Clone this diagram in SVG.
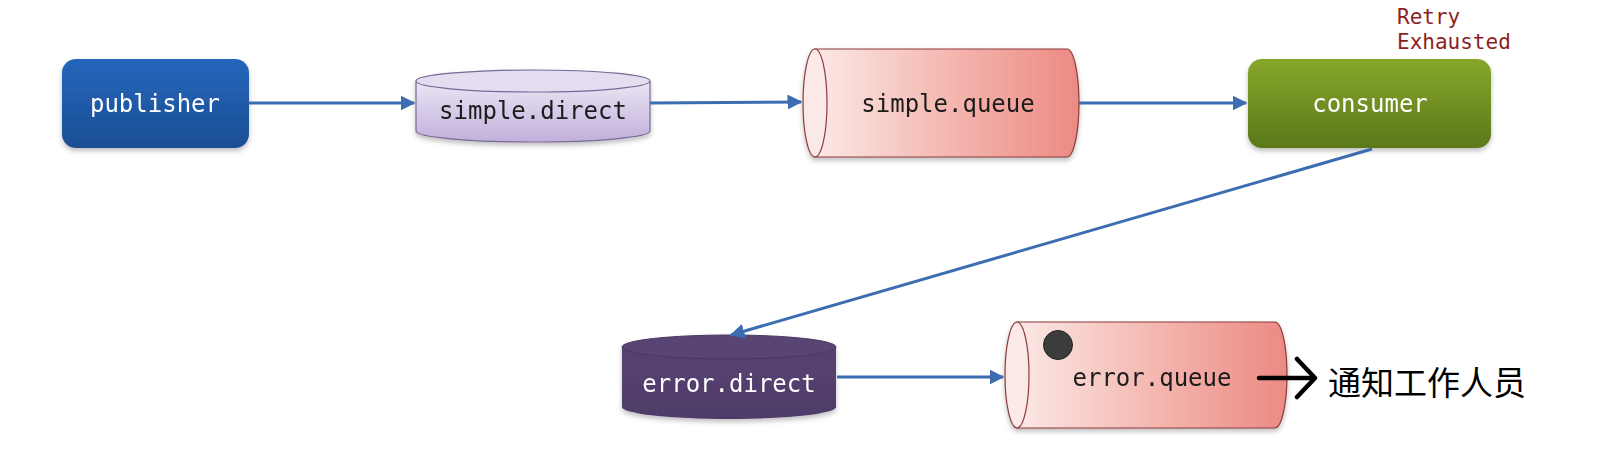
<svg xmlns="http://www.w3.org/2000/svg" width="1611" height="460" viewBox="0 0 1611 460">
<style>
.lbl{font-family:"DejaVu Sans Mono","Liberation Mono",monospace;font-size:24px;text-anchor:middle;dominant-baseline:central}
.w{fill:#ffffff}
.k{fill:#1a1a1a}
.conn{stroke:#3b6db0;stroke-width:3;fill:none;marker-end:url(#ah)}
</style>
<defs>
<marker id="ah" viewBox="0 0 10 10" refX="9" refY="5" markerWidth="5" markerHeight="5" orient="auto" markerUnits="strokeWidth">
<path d="M0,0 L10,5 L0,10 z" fill="#3b6db0"/>
</marker>
<linearGradient id="gBlue" x1="0" y1="0" x2="0" y2="1"><stop offset="0" stop-color="#2466bb"/><stop offset="1" stop-color="#1b4f95"/></linearGradient>
<linearGradient id="gGreen" x1="0" y1="0" x2="0" y2="1"><stop offset="0" stop-color="#87a72b"/><stop offset="1" stop-color="#5c7819"/></linearGradient>
<linearGradient id="gLav" x1="0" y1="0" x2="0" y2="1"><stop offset="0" stop-color="#ece5f4"/><stop offset="1" stop-color="#c0b0db"/></linearGradient>
<linearGradient id="gPink" x1="0" y1="0" x2="1" y2="0"><stop offset="0" stop-color="#fbe8e6"/><stop offset="0.5" stop-color="#f4b8b1"/><stop offset="1" stop-color="#ec8a83"/></linearGradient>
<linearGradient id="gPurple" x1="0" y1="0" x2="0" y2="1"><stop offset="0" stop-color="#574272"/><stop offset="1" stop-color="#4f3b69"/></linearGradient>
<filter id="sh" x="-10%" y="-10%" width="120%" height="130%"><feDropShadow dx="0" dy="3" stdDeviation="2.5" flood-color="#000" flood-opacity="0.25"/></filter>
</defs>
<rect width="1611" height="460" fill="#ffffff"/>

<g id="publisher" filter="url(#sh)">
<rect x="62" y="59" width="187" height="89" rx="14" fill="url(#gBlue)"/>
<text class="lbl w" x="155" y="104">publisher</text>
</g>

<g id="simple-direct" filter="url(#sh)">
<path d="M416,81 L416,131 A117,11 0 0 0 650,131 L650,81" fill="url(#gLav)" stroke="#7a6a98" stroke-width="1.2"/>
<ellipse cx="533" cy="81" rx="117" ry="11" fill="#e4dcef" stroke="#7a6a98" stroke-width="1.2"/>
<text class="lbl k" x="533" y="111">simple.direct</text>
</g>

<g id="simple-queue" filter="url(#sh)">
<path d="M815,49 L1067,49 A12,54 0 0 1 1067,157 L815,157 z" fill="url(#gPink)" stroke="#8b3b3b" stroke-width="1.2"/>
<ellipse cx="815" cy="103" rx="12" ry="54" fill="#fbe9e8" stroke="#8b3b3b" stroke-width="1.2"/>
<text class="lbl k" x="948" y="104">simple.queue</text>
</g>

<g id="consumer" filter="url(#sh)">
<rect x="1248" y="59" width="243" height="89" rx="14" fill="url(#gGreen)"/>
<text class="lbl w" x="1370" y="104">consumer</text>
</g>

<g id="retry-label">
<text x="1397" y="17" font-family="DejaVu Sans Mono,Liberation Mono,monospace" font-size="21" fill="#8c1f22" dominant-baseline="central">Retry</text>
<text x="1397" y="42" font-family="DejaVu Sans Mono,Liberation Mono,monospace" font-size="21" fill="#8c1f22" dominant-baseline="central">Exhausted</text>
</g>

<g id="error-direct" filter="url(#sh)">
<path d="M622,347 L622,407 A107,12 0 0 0 836,407 L836,347" fill="url(#gPurple)"/>
<ellipse cx="729" cy="347" rx="107" ry="12" fill="#584473" stroke="#4a3764" stroke-width="1"/>
<text class="lbl w" x="729" y="384">error.direct</text>
</g>

<g id="error-queue" filter="url(#sh)">
<path d="M1017,322 L1275,322 A12,53 0 0 1 1275,428 L1017,428 z" fill="url(#gPink)" stroke="#8b3b3b" stroke-width="1.2"/>
<ellipse cx="1017" cy="375" rx="12" ry="53" fill="#fbe9e8" stroke="#8b3b3b" stroke-width="1.2"/>
<circle cx="1058" cy="345" r="14.5" fill="#3a3d3c" stroke="#222" stroke-width="1"/>
<text class="lbl k" x="1152" y="378">error.queue</text>
</g>

<g id="notify">
<text x="1328" y="381" font-family="Noto Sans CJK SC,sans-serif" font-size="33" fill="#000" dominant-baseline="central">通知工作人员</text>
</g>

<g id="connectors">
<line class="conn" x1="249" y1="103" x2="414" y2="103"/>
<line class="conn" x1="650" y1="103" x2="801" y2="102"/>
<line class="conn" x1="1079" y1="103" x2="1246" y2="103"/>
<line class="conn" x1="1372" y1="149" x2="731" y2="335"/>
<line class="conn" x1="837" y1="377" x2="1003" y2="377"/>
<path d="M1259,378 L1312,378 M1297,359 L1315,378 L1297,397" stroke="#000" stroke-width="4.5" fill="none" stroke-linecap="round" stroke-linejoin="round"/>
</g>
</svg>
